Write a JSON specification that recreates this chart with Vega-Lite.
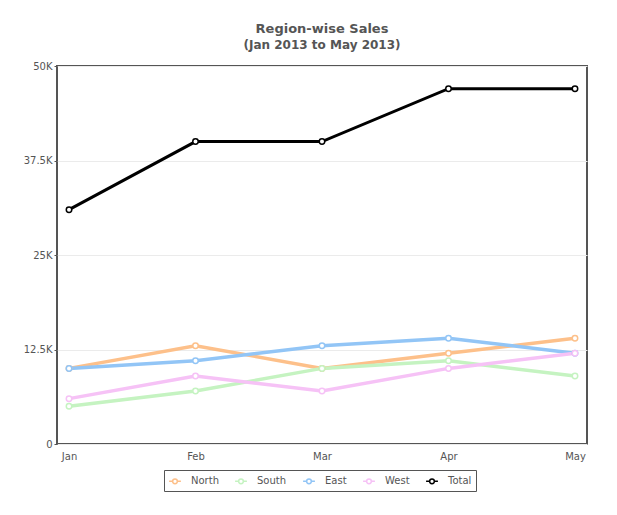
{
  "$schema": "https://vega.github.io/schema/vega-lite/v6.json",
  "width": 530,
  "height": 378,
  "padding": {"left": 23, "top": 23, "right": 20, "bottom": 10},
  "background": "white",
  "title": {
    "text": "Region-wise Sales",
    "subtitle": "(Jan 2013 to May 2013)",
    "font": "DejaVu Sans",
    "subtitleFont": "DejaVu Sans",
    "fontSize": 13,
    "subtitleFontSize": 12,
    "fontWeight": "bold",
    "subtitleFontWeight": "bold",
    "color": "#555555",
    "subtitleColor": "#555555",
    "anchor": "middle",
    "offset": 10,
    "subtitlePadding": 4
  },
  "data": {
    "values": [
      {"month": "Jan", "region": "North", "sales": 10000},
      {"month": "Feb", "region": "North", "sales": 13000},
      {"month": "Mar", "region": "North", "sales": 10000},
      {"month": "Apr", "region": "North", "sales": 12000},
      {"month": "May", "region": "North", "sales": 14000},
      {"month": "Jan", "region": "South", "sales": 5000},
      {"month": "Feb", "region": "South", "sales": 7000},
      {"month": "Mar", "region": "South", "sales": 10000},
      {"month": "Apr", "region": "South", "sales": 11000},
      {"month": "May", "region": "South", "sales": 9000},
      {"month": "Jan", "region": "East", "sales": 10000},
      {"month": "Feb", "region": "East", "sales": 11000},
      {"month": "Mar", "region": "East", "sales": 13000},
      {"month": "Apr", "region": "East", "sales": 14000},
      {"month": "May", "region": "East", "sales": 12000},
      {"month": "Jan", "region": "West", "sales": 6000},
      {"month": "Feb", "region": "West", "sales": 9000},
      {"month": "Mar", "region": "West", "sales": 7000},
      {"month": "Apr", "region": "West", "sales": 10000},
      {"month": "May", "region": "West", "sales": 12000},
      {"month": "Jan", "region": "Total", "sales": 31000},
      {"month": "Feb", "region": "Total", "sales": 40000},
      {"month": "Mar", "region": "Total", "sales": 40000},
      {"month": "Apr", "region": "Total", "sales": 47000},
      {"month": "May", "region": "Total", "sales": 47000}
    ]
  },
  "encoding": {
    "x": {
      "field": "month",
      "type": "ordinal",
      "sort": ["Jan", "Feb", "Mar", "Apr", "May"],
      "scale": {"type": "point", "padding": 0.095},
      "axis": {"title": null, "labelAngle": 0, "domain": false, "ticks": false, "grid": false, "labelPadding": 7}
    },
    "y": {
      "field": "sales",
      "type": "quantitative",
      "scale": {"domain": [0, 50000], "nice": false},
      "axis": {
        "title": null,
        "values": [0, 12500, 25000, 37500, 50000],
        "labelExpr": "datum.value == 0 ? '0' : (datum.value / 1000) + 'K'",
        "domain": false,
        "tickSize": 3,
        "tickColor": "#555555",
        "grid": true,
        "gridColor": "#ebebeb",
        "labelPadding": 2
      }
    },
    "color": {
      "field": "region",
      "type": "nominal",
      "scale": {
        "domain": ["North", "South", "East", "West", "Total"],
        "range": ["#FDC08A", "#C5F3C1", "#92C5F6", "#F6C2F6", "#000000"]
      },
      "legend": {
        "title": null,
        "orient": "none",
        "legendX": 107,
        "legendY": 404,
        "direction": "horizontal",
        "strokeColor": "#555555",
        "fillColor": "white",
        "padding": 4,
        "columnPadding": 13,
        "symbolType": "M-1,0L-0.4,0M0.4,0L1,0M-0.4,0A0.4,0.4,0,1,1,0.4,0A0.4,0.4,0,1,1,-0.4,0",
        "symbolSize": 140,
        "symbolStrokeWidth": 1.5,
        "symbolFillColor": "white",
        "labelOffset": 9,
        "labelFont": "DejaVu Sans",
        "labelFontSize": 10,
        "labelColor": "#555555"
      }
    }
  },
  "layer": [
    {
      "transform": [{"filter": "datum.region != 'Total'"}],
      "mark": {"type": "line", "strokeWidth": 3.5, "point": {"filled": false, "fill": "white", "size": 30, "strokeWidth": 1.5}}
    },
    {
      "transform": [{"filter": "datum.region == 'Total'"}],
      "mark": {"type": "line", "strokeWidth": 3, "point": {"filled": false, "fill": "white", "size": 30, "strokeWidth": 1.5}}
    }
  ],
  "config": {
    "view": {"stroke": "#555555", "strokeWidth": 2},
    "axis": {"labelFont": "DejaVu Sans", "labelFontSize": 10, "labelColor": "#555555"}
  }
}
